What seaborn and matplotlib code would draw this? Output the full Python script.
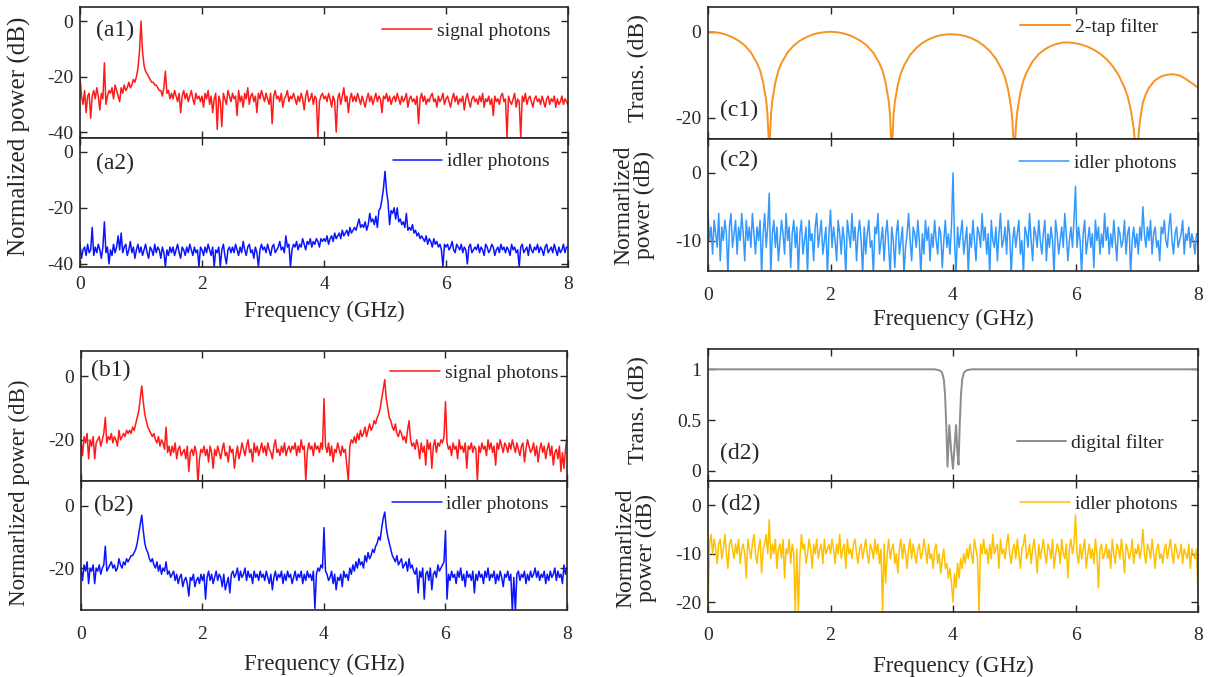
import numpy as np
import pandas as pd
import matplotlib
matplotlib.use('Agg')
import matplotlib.pyplot as plt
import seaborn as sns

# 频率轴 0-8 GHz, 步长 0.025 GHz
freq = np.round(np.arange(321) * 0.025, 3)

# (a1) signal photons
a1_signal = [
    -20, -27, -30, -25, -33, -27, -26, -35, -27, -25, -28, -24, -27, -32, -26, -28, -15, -30, -27, -25,
    -26, -24, -28, -23, -25, -27, -29, -24, -26, -23, -25, -24, -22, -24, -23, -21, -22, -20, -17, -11,
    0, -11, -16, -18, -19, -20, -21, -22, -22, -23, -23, -24, -25, -25, -27, -24, -18, -26, -25, -28,
    -26, -28, -25, -27, -29, -26, -33, -27, -25, -28, -26, -29, -27, -25, -28, -30, -26, -28, -27, -29,
    -27, -31, -26, -28, -25, -30, -27, -33, -28, -26, -39, -27, -29, -38, -26, -28, -30, -25, -27, -29,
    -26, -28, -27, -34, -25, -29, -27, -31, -26, -28, -24, -30, -27, -26, -29, -27, -33, -26, -28, -25,
    -27, -29, -26, -28, -30, -26, -37, -27, -25, -28, -27, -29, -26, -31, -28, -27, -25, -29, -27, -28,
    -26, -28, -30, -27, -29, -26, -28, -32, -27, -25, -29, -28, -26, -30, -27, -28, -42, -29, -27, -26,
    -28, -27, -29, -26, -28, -31, -27, -29, -40, -28, -26, -30, -27, -24, -29, -27, -33, -28, -26, -29,
    -27, -29, -26, -28, -30, -27, -29, -31, -28, -26, -29, -27, -30, -28, -26, -29, -27, -28, -33, -27,
    -28, -26, -29, -27, -30, -28, -27, -29, -26, -28, -30, -27, -29, -28, -26, -31, -28, -27, -29, -28,
    -30, -27, -37, -28, -26, -29, -27, -30, -28, -29, -27, -26, -29, -28, -31, -27, -29, -28, -26, -30,
    -28, -27, -29, -31, -28, -26, -29, -27, -30, -28, -29, -27, -32, -28, -26, -29, -31, -28, -27, -29,
    -28, -30, -27, -29, -26, -31, -28, -29, -27, -30, -28, -34, -27, -29, -28, -30, -27, -26, -29, -28,
    -42, -27, -29, -30, -28, -26, -31, -28, -29, -42, -27, -29, -26, -30, -28, -27, -29, -31, -28, -27,
    -29, -28, -30, -27, -29, -31, -28, -27, -30, -28, -29, -27, -31, -28, -30, -29, -27, -30, -28, -29,
    -30]

# (a2) idler photons
a2_idler = [
    -33, -38, -35, -34, -37, -33, -36, -35, -27, -37, -34, -36, -33, -35, -38, -34, -25, -36, -34, -40,
    -35, -37, -33, -36, -34, -30, -35, -29, -36, -34, -33, -37, -35, -32, -36, -34, -38, -35, -33, -36,
    -34, -37, -35, -33, -36, -38, -34, -35, -37, -33, -36, -34, -35, -38, -34, -36, -41, -35, -37, -34,
    -36, -34, -37, -35, -33, -36, -38, -34, -35, -37, -34, -36, -33, -35, -37, -34, -36, -35, -41, -34,
    -35, -37, -34, -36, -33, -35, -37, -34, -41, -35, -36, -34, -41, -35, -33, -37, -40, -35, -34, -36,
    -34, -36, -33, -35, -37, -34, -36, -32, -35, -37, -34, -33, -36, -35, -38, -34, -36, -41, -35, -33,
    -35, -34, -36, -33, -35, -37, -34, -33, -36, -35, -34, -32, -35, -34, -36, -30, -34, -33, -41, -35,
    -33, -34, -32, -35, -33, -34, -31, -33, -35, -32, -33, -31, -34, -32, -33, -31, -32, -34, -31, -32,
    -31, -32, -30, -33, -31, -30, -32, -29, -31, -30, -29, -31, -28, -30, -29, -28, -30, -27, -29, -28,
    -27, -28, -26, -24, -27, -26, -27, -25, -28, -26, -22, -25, -24, -26, -23, -27, -21, -20, -17, -13,
    -7, -14, -18, -26, -21, -22, -20, -24, -20, -25, -24, -26, -25, -27, -22, -28, -27, -28, -26, -29,
    -28, -30, -29, -31, -30, -31, -32, -30, -33, -31, -32, -34, -31, -33, -32, -34, -33, -35, -41, -33,
    -34, -33, -35, -34, -32, -35, -36, -33, -34, -35, -33, -36, -34, -35, -40, -34, -33, -36, -35, -34,
    -35, -33, -36, -34, -35, -37, -33, -34, -36, -35, -33, -34, -37, -35, -34, -36, -33, -35, -34, -36,
    -34, -35, -37, -33, -35, -34, -36, -35, -41, -34, -33, -36, -35, -34, -37, -33, -35, -36, -34, -35,
    -33, -36, -34, -35, -37, -34, -33, -36, -35, -34, -36, -33, -35, -37, -34, -36, -35, -33, -36, -34,
    -34]

# (b1) signal photons
b1_signal = [
    -20, -25, -19, -21, -18, -26, -20, -22, -19, -26, -21, -20, -19, -22, -20, -18, -13, -21, -19, -20,
    -18, -21, -19, -20, -22, -17, -20, -19, -18, -19, -17, -18, -17, -18, -16, -17, -15, -13, -11, -7,
    -3, -8, -12, -14, -16, -17, -18, -19, -18, -20, -21, -19, -22, -20, -21, -23, -16, -24, -22, -25,
    -22, -24, -21, -26, -23, -22, -25, -24, -23, -26, -22, -30, -24, -23, -25, -22, -24, -34, -26, -23,
    -24, -22, -25, -23, -27, -22, -24, -29, -23, -25, -22, -24, -26, -23, -21, -25, -24, -27, -22, -24,
    -23, -29, -25, -22, -26, -24, -21, -23, -25, -22, -20, -24, -23, -27, -21, -24, -22, -25, -23, -21,
    -24, -22, -25, -21, -23, -24, -26, -22, -20, -24, -23, -25, -22, -24, -21, -25, -23, -22, -24, -22,
    -23, -21, -25, -22, -24, -20, -23, -22, -33, -24, -21, -23, -22, -25, -21, -23, -22, -24, -21, -23,
    -7, -22, -24, -21, -25, -22, -27, -23, -24, -21, -23, -25, -22, -24, -23, -28, -33, -22, -20, -21,
    -19, -21, -18, -20, -17, -19, -18, -16, -19, -17, -15, -17, -16, -14, -15, -13, -12, -10, -7, -4,
    -1, -7, -10, -13, -14, -16, -17, -15, -18, -19, -17, -18, -20, -19, -21, -17, -14, -20, -22, -21,
    -23, -20, -22, -26, -21, -24, -22, -28, -20, -23, -21, -29, -22, -20, -24, -21, -22, -20, -21, -19,
    -8, -21, -23, -22, -25, -21, -23, -22, -26, -20, -23, -22, -24, -21, -29, -22, -23, -21, -24, -22,
    -23, -33, -22, -24, -21, -23, -22, -25, -20, -23, -21, -24, -22, -28, -21, -23, -20, -22, -24, -21,
    -22, -24, -21, -23, -20, -22, -24, -21, -23, -25, -22, -21, -27, -23, -20, -22, -24, -23, -21, -25,
    -22, -27, -23, -21, -24, -22, -26, -23, -21, -25, -22, -28, -24, -23, -26, -22, -30, -24, -29, -23,
    -19]

# (b2) idler photons
b2_idler = [
    -20, -24, -19, -21, -18, -25, -20, -21, -19, -25, -20, -21, -19, -22, -20, -19, -13, -21, -20, -19,
    -18, -20, -19, -21, -20, -17, -19, -20, -18, -19, -17, -18, -17, -16, -16, -15, -14, -12, -9, -6,
    -3, -8, -12, -14, -15, -17, -18, -17, -19, -20, -18, -21, -19, -22, -20, -21, -18, -22, -21, -23,
    -22, -21, -24, -22, -25, -23, -22, -26, -24, -23, -25, -29, -23, -24, -22, -26, -24, -23, -25, -22,
    -24, -22, -30, -23, -21, -24, -22, -25, -23, -21, -24, -22, -23, -26, -22, -27, -25, -23, -28, -22,
    -21, -23, -22, -20, -24, -21, -23, -22, -20, -24, -21, -23, -22, -25, -21, -23, -22, -24, -21, -23,
    -22, -24, -21, -23, -25, -22, -27, -23, -21, -24, -22, -23, -21, -25, -22, -24, -21, -23, -22, -25,
    -23, -21, -24, -22, -23, -21, -25, -22, -24, -21, -23, -22, -24, -21, -33, -22, -20, -21, -19, -20,
    -7, -21, -22, -24, -23, -21, -25, -22, -27, -23, -24, -22, -26, -21, -23, -22, -24, -20, -22, -19,
    -21, -18, -20, -17, -19, -18, -20, -16, -18, -15, -17, -16, -14, -15, -13, -12, -10, -11, -7, -4,
    -2, -7, -10, -12, -14, -16, -17, -18, -16, -19, -18, -17, -20, -19, -18, -21, -17, -20, -19, -21,
    -22, -20, -28, -21, -23, -20, -30, -22, -21, -24, -20, -27, -22, -21, -23, -19, -21, -20, -19, -18,
    -8, -30, -22, -24, -21, -23, -22, -25, -21, -23, -20, -24, -22, -26, -21, -23, -22, -24, -21, -28,
    -22, -24, -21, -23, -22, -25, -21, -23, -20, -24, -22, -23, -21, -25, -22, -24, -21, -23, -26, -22,
    -23, -21, -24, -22, -34, -23, -34, -22, -21, -24, -22, -23, -21, -25, -22, -24, -21, -23, -22, -20,
    -23, -21, -24, -22, -23, -21, -25, -22, -24, -21, -23, -22, -20, -24, -21, -23, -22, -25, -19, -22,
    -20]

# (c2) idler photons after 2-tap filter
c2_idler = [
    -6, -10, -8, -12, -7, -9, -11, -6, -13, -8, -10, -7, -9, -15, -8, -6, -11, -9, -7, -12,
    -8, -10, -6, -9, -13, -7, -10, -8, -11, -6, -9, -12, -8, -10, -7, -15, -9, -6, -11, -8,
    -3, -15, -9, -7, -11, -8, -13, -10, -7, -9, -12, -6, -10, -8, -14, -9, -7, -11, -8, -15,
    -9, -7, -12, -10, -8, -15, -7, -10, -9, -13, -8, -6, -11, -9, -7, -12, -10, -8, -15, -9,
    -5.5, -11, -8, -10, -13, -7, -9, -12, -8, -10, -15, -7, -9, -11, -6, -10, -8, -13, -9, -7,
    -10, -15, -8, -12, -9, -7, -11, -10, -15, -8, -9, -6, -12, -10, -8, -13, -9, -7, -11, -15,
    -8, -10, -14, -9, -7, -12, -10, -8, -15, -11, -9, -6, -10, -13, -8, -9, -11, -7, -10, -15,
    -9, -12, -7, -10, -8, -13, -9, -11, -7, -10, -12, -8, -9, -14, -10, -7, -11, -9, -12, -8,
    0, -10, -15, -8, -11, -9, -7, -12, -10, -8, -15, -9, -11, -7, -10, -13, -8, -9, -11, -6,
    -10, -8, -12, -9, -15, -7, -10, -11, -8, -13, -9, -6, -11, -10, -8, -12, -7, -9, -15, -10,
    -8, -11, -9, -7, -12, -10, -15, -8, -9, -11, -6, -10, -13, -8, -9, -11, -7, -10, -12, -9,
    -7, -13, -9, -11, -8, -10, -15, -7, -9, -12, -10, -8, -11, -6, -9, -13, -10, -8, -11, -7,
    -2, -11, -8, -10, -15, -9, -7, -12, -10, -8, -11, -9, -14, -7, -10, -8, -12, -9, -11, -6,
    -10, -8, -12, -9, -11, -7, -10, -13, -8, -9, -11, -10, -7, -12, -9, -8, -15, -10, -8, -11,
    -9, -12, -8, -10, -5, -9, -11, -8, -10, -7, -12, -9, -8, -11, -10, -13, -8, -9, -7, -10,
    -11, -8, -6, -10, -12, -9, -8, -11, -10, -9, -7, -12, -9, -10, -8, -11, -9, -10, -12, -9,
    -9]

# (d2) idler photons after digital filter
d2_idler = [
    -22, -8, -6, -10, -7, -9, -12, -8, -7, -11, -9, -6, -10, -13, -8, -7, -9, -11, -8, -10,
    -7, -12, -9, -8, -10, -15, -7, -9, -11, -8, -6, -10, -12, -9, -7, -14, -9, -8, -6, -10,
    -3, -11, -8, -10, -7, -13, -9, -8, -11, -7, -15, -9, -10, -7, -12, -8, -10, -22, -9, -22,
    -11, -6, -9, -8, -12, -10, -7, -9, -13, -8, -10, -7, -11, -9, -8, -12, -7, -10, -9, -8,
    -10, -7, -9, -12, -8, -10, -6, -11, -9, -8, -13, -7, -10, -9, -11, -8, -7, -10, -12, -9,
    -8, -11, -9, -7, -10, -12, -8, -9, -11, -7, -10, -8, -12, -9, -22, -8, -16, -10, -7, -11,
    -9, -8, -12, -10, -14, -9, -7, -11, -8, -10, -13, -9, -7, -11, -8, -10, -12, -9, -8, -11,
    -10, -7, -9, -12, -8, -11, -10, -13, -9, -8, -12, -10, -14, -11, -9, -13, -12, -15, -13, -16,
    -20, -14, -17, -12, -15, -11, -13, -10, -12, -9, -11, -8, -10, -12, -7, -9, -11, -22, -8, -10,
    -7, -10, -9, -12, -8, -11, -6, -10, -9, -8, -13, -7, -10, -9, -11, -8, -6, -10, -12, -9,
    -8, -11, -7, -10, -13, -9, -8, -6, -11, -10, -8, -12, -9, -7, -10, -14, -8, -11, -9, -7,
    -10, -12, -8, -9, -11, -7, -13, -10, -8, -9, -12, -7, -10, -11, -8, -15, -9, -7, -10, -8,
    -2, -10, -12, -8, -11, -9, -7, -13, -10, -8, -11, -9, -12, -7, -10, -17, -9, -8, -11, -10,
    -8, -11, -9, -13, -7, -10, -12, -8, -9, -11, -7, -10, -14, -8, -9, -11, -10, -7, -12, -9,
    -10, -8, -11, -9, -5, -10, -12, -8, -9, -11, -7, -10, -13, -9, -8, -11, -10, -12, -9, -8,
    -11, -9, -7, -10, -12, -8, -9, -11, -10, -8, -12, -9, -10, -11, -8, -13, -9, -10, -11, -9,
    -18]

# (c1) 2-tap filter transmission
c1_freq = [0.0, 0.1, 0.2, 0.3, 0.4, 0.5, 0.6, 0.7, 0.8, 0.85, 0.9, 0.95, 0.97, 0.99, 1.0,
           1.01, 1.03, 1.05, 1.1, 1.15, 1.2, 1.3, 1.4, 1.5, 1.6, 1.7, 1.8, 1.9, 2.0,
           2.1, 2.2, 2.3, 2.4, 2.5, 2.6, 2.7, 2.8, 2.85, 2.9, 2.95, 2.97, 2.99, 3.0,
           3.01, 3.03, 3.05, 3.1, 3.15, 3.2, 3.3, 3.4, 3.5, 3.6, 3.7, 3.8, 3.9, 4.0,
           4.1, 4.2, 4.3, 4.4, 4.5, 4.6, 4.7, 4.8, 4.85, 4.9, 4.95, 4.97, 4.99, 5.0,
           5.01, 5.03, 5.05, 5.1, 5.15, 5.2, 5.3, 5.4, 5.5, 5.6, 5.7, 5.8, 5.9, 6.0,
           6.1, 6.2, 6.3, 6.4, 6.5, 6.6, 6.7, 6.8, 6.85, 6.9, 6.95, 6.97, 6.99, 7.0,
           7.01, 7.03, 7.05, 7.1, 7.15, 7.2, 7.3, 7.4, 7.5, 7.6, 7.7, 7.8, 7.9, 8.0]
c1_trans = [0, -0.1, -0.3, -0.7, -1.3, -2.1, -3.2, -4.8, -7.3, -9.0, -11.8, -16.0, -19.0, -25, -40,
            -25, -19.0, -16.0, -11.8, -9.0, -7.3, -4.8, -3.2, -2.1, -1.3, -0.7, -0.3, -0.1, 0,
            -0.1, -0.35, -0.75, -1.4, -2.2, -3.3, -4.9, -7.4, -9.1, -11.9, -16.1, -19.1, -25, -40,
            -25, -19.3, -16.4, -12.3, -9.6, -7.9, -5.4, -3.8, -2.6, -1.8, -1.2, -0.8, -0.6, -0.6,
            -0.7, -1.0, -1.5, -2.2, -3.2, -4.5, -6.3, -8.9, -10.7, -13.5, -17.8, -20.8, -26, -40,
            -27, -21.5, -18.5, -14.2, -11.4, -9.5, -6.9, -5.2, -4.1, -3.3, -2.8, -2.5, -2.5, -2.7,
            -3.0, -3.5, -4.2, -5.1, -6.3, -7.9, -10.0, -13.0, -15.0, -18.0, -22.5, -25.5, -31, -45,
            -32, -24.0, -21.0, -16.5, -14.5, -13.0, -11.3, -10.4, -10.0, -9.9, -10.2, -11.0, -12.0, -13.0]

# (d1) digital filter transmission
d1_freq = [0.0, 3.7, 3.78, 3.82, 3.85, 3.87, 3.89, 3.91, 3.94, 3.97, 4.0, 4.02, 4.05, 4.07, 4.09,
           4.11, 4.13, 4.15, 4.18, 4.22, 4.3, 8.0]
d1_trans = [1, 1, 0.99, 0.97, 0.9, 0.75, 0.45, 0.04, 0.45, 0.2, 0.02, 0.2, 0.45, 0.2, 0.06,
            0.45, 0.75, 0.9, 0.97, 0.99, 1, 1]

sns.set_style('ticks')
plt.rcParams['font.family'] = ['Liberation Serif', 'DejaVu Serif']
plt.rcParams['axes.unicode_minus'] = False

W, H = 1210, 677
fig = plt.figure(figsize=(W / 100, H / 100), dpi=100)


def px_axes(x0, x1, y0, y1):
    # 像素坐标 -> figure 坐标
    return fig.add_axes([x0 / W, 1 - y1 / H, (x1 - x0) / W, (y1 - y0) / H])


def style(ax, ylim, yticks, show_x, pad=5):
    ax.set_xlim(0, 8)
    ax.set_ylim(*ylim)
    ax.set_xticks([0, 2, 4, 6, 8])
    ax.set_yticks(yticks)
    ax.set_yticklabels([('%g' % t) for t in yticks])
    ax.tick_params(direction='in', top=True, right=True, length=5, width=1,
                   color='#262626', labelsize=14, pad=5)
    ax.tick_params(axis='x', pad=pad)
    if not show_x:
        ax.tick_params(labelbottom=False)
    for s in ax.spines.values():
        s.set_linewidth(1.2)
        s.set_color('#262626')
    ax.set_ylabel('')
    ax.set_xlabel('')


def draw(ax, x, y, color, label, lw=1.1):
    df = pd.DataFrame({'f': x, 'p': y})
    sns.lineplot(data=df, x='f', y='p', ax=ax, color=color, lw=lw, label=label)


def legend(ax, x, y):
    ax.legend(loc='center left', bbox_to_anchor=(x, y), frameon=False, fontsize=14,
              handlelength=2.55, handletextpad=0.25, borderpad=0, borderaxespad=0)


def panel(ax, x, y, text):
    ax.text(x, y, text, transform=ax.transAxes, fontsize=17, va='center', ha='left')


red, blue = '#FF1A1A', '#0A14FF'

# 左上 (a1)/(a2)
ax = px_axes(80, 568, 7.3, 137.7)
draw(ax, freq, a1_signal, red, 'signal photons')
style(ax, (-42, 5), [-40, -20, 0], False)
legend(ax, 0.619, 0.82)
panel(ax, 0.033, 0.825, '(a1)')

ax = px_axes(80, 568, 137.7, 266.7)
draw(ax, freq, a2_idler, blue, 'idler photons')
style(ax, (-41, 5), [-40, -20, 0], True, pad=7)
legend(ax, 0.641, 0.814)
panel(ax, 0.033, 0.80, '(a2)')
ax.set_xlabel('Frequency (GHz)', fontsize=16.5, labelpad=5.5)

# 左下 (b1)/(b2)
ax = px_axes(81, 567, 351, 481)
draw(ax, freq, b1_signal, red, 'signal photons')
style(ax, (-33, 8), [-20, 0], False)
legend(ax, 0.636, 0.833)
panel(ax, 0.02, 0.85, '(b1)')

ax = px_axes(81, 567, 481, 610)
draw(ax, freq, b2_idler, blue, 'idler photons')
style(ax, (-33.5, 8), [-20, 0], True, pad=11.5)
legend(ax, 0.64, 0.82)
panel(ax, 0.027, 0.81, '(b2)')
ax.set_xlabel('Frequency (GHz)', fontsize=16.5, labelpad=8)

# 右上 (c1)/(c2)
ax = px_axes(708, 1198, 7.3, 139)
draw(ax, c1_freq, c1_trans, '#F7931E', '2-tap filter', lw=1.4)
style(ax, (-25, 5.7), [-20, 0], False)
legend(ax, 0.637, 0.853)
panel(ax, 0.025, 0.22, '(c1)')

ax = px_axes(708, 1198, 139, 271)
draw(ax, freq, c2_idler, '#3399FF', 'idler photons')
style(ax, (-14.5, 5), [-10, 0], True, pad=11.5)
legend(ax, 0.635, 0.818)
panel(ax, 0.025, 0.84, '(c2)')
ax.set_xlabel('Frequency (GHz)', fontsize=16.5, labelpad=3.5)

# 右下 (d1)/(d2)
ax = px_axes(708, 1198, 349, 481)
draw(ax, d1_freq, d1_trans, '#8C8C8C', 'digital filter', lw=1.4)
style(ax, (-0.1, 1.2), [0, 0.5, 1], False)
legend(ax, 0.63, 0.288)
panel(ax, 0.025, 0.21, '(d2)')

ax = px_axes(708, 1198, 481, 612)
draw(ax, freq, d2_idler, '#FFC000', 'idler photons')
style(ax, (-22, 5), [-20, -10, 0], True, pad=11)
legend(ax, 0.637, 0.824)
panel(ax, 0.027, 0.82, '(d2)')
ax.set_xlabel('Frequency (GHz)', fontsize=16.5, labelpad=8)


# 纵轴标题
def ylab(x, y, text, size=17):
    fig.text(x / W, 1 - y / H, text, rotation=90, fontsize=size, ha='center', va='center',
             linespacing=0.95)


ylab(19, 136, 'Normalized power (dB)', 18)
ylab(19, 493, 'Normarlized power (dB)', 16.5)
ylab(638, 68, 'Trans. (dB)')
ylab(634, 205, 'Normarlized\npower (dB)')
ylab(638, 410, 'Trans. (dB)')
ylab(636, 548, 'Normarlized\npower (dB)')

fig.savefig('out.png', dpi=100)
